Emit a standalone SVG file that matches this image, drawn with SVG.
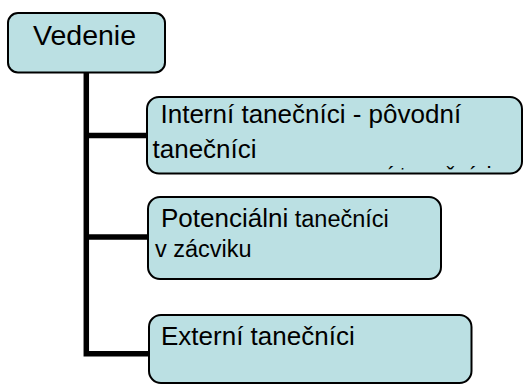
<svg xmlns="http://www.w3.org/2000/svg" width="524" height="385" viewBox="0 0 524 385">
<defs>
<style>
.box{fill:#BBE0E3;stroke:#000;stroke-width:2}
.t{font-family:"Liberation Sans",Arial,sans-serif;fill:#000}
.conn{fill:none;stroke:#000;stroke-width:5.5;stroke-linejoin:miter}
</style>
<clipPath id="clip2"><rect x="148" y="98" width="372" height="71.5"/></clipPath>
</defs>
<rect width="524" height="385" fill="#fff"/>
<g id="connectors">
<path class="conn" d="M86.3 72 V353.7 H149"/>
<path class="conn" d="M86.3 135.5 H147"/>
<path class="conn" d="M86.3 237 H148"/>
</g>
<g id="vedenie">
<rect class="box" x="8" y="13" width="157" height="59.5" rx="10"/>
<text class="t" x="33" y="45" font-size="28.5">Vedenie</text>
</g>
<g id="interni">
<rect class="box" x="147" y="97" width="375" height="76.5" rx="12"/>
<text class="t" x="160.5" y="123" font-size="26">Interní tanečníci - pôvodní</text>
<text class="t" x="152.5" y="157.5" font-size="26">tanečníci</text>
<text class="t" x="374" y="183.5" font-size="23" clip-path="url(#clip2)">ní tanečníci</text>
</g>
<g id="potencialni">
<rect class="box" x="148" y="197" width="293" height="82" rx="12"/>
<text class="t" x="161" y="226.5" font-size="26">Potenciálni<tspan font-size="23.5"> tanečníci</tspan></text>
<text class="t" x="155" y="256.5" font-size="23.5">v zácviku</text>
</g>
<g id="externi">
<rect class="box" x="149" y="315" width="322.5" height="68" rx="12"/>
<text class="t" x="161" y="345" font-size="26">Externí tanečníci</text>
</g>
</svg>
